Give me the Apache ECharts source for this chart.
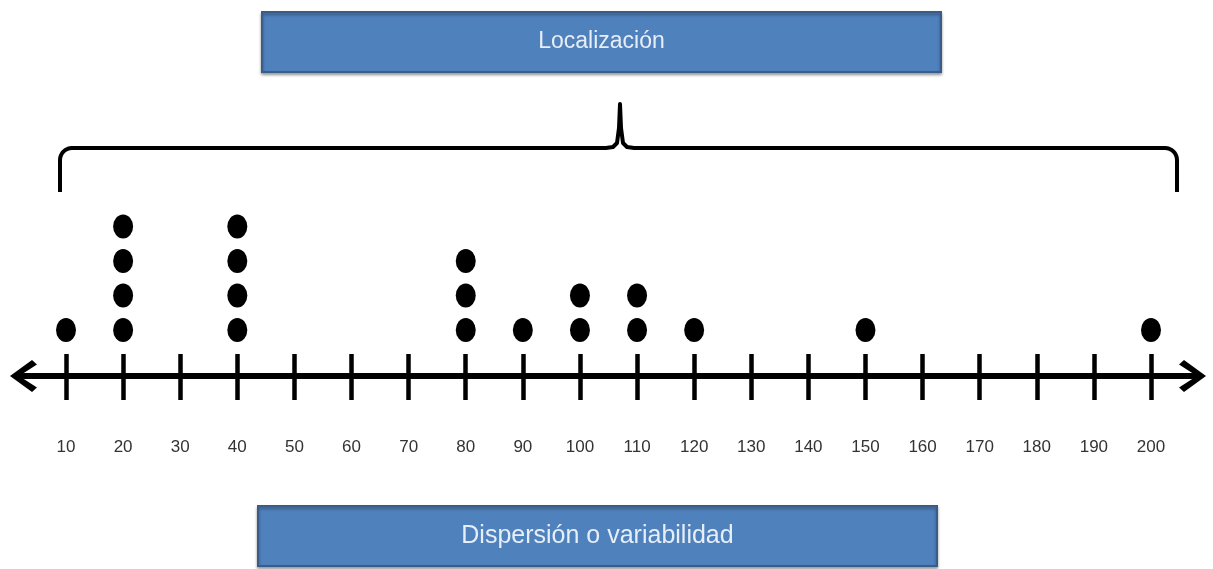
<!DOCTYPE html>
<html>
<head>
<meta charset="utf-8">
<script src="https://cdn.jsdelivr.net/npm/echarts@6/dist/echarts.min.js"></script>
<style>
  html, body { margin: 0; padding: 0; background: #fff; }
  #chart { width: 1213px; height: 569px; }
</style>
</head>
<body>
<div id="chart"></div>
<script>
// data values on the line and how many dots sit on each
const values = [10, 20, 40, 80, 90, 100, 110, 120, 150, 200]
const counts = [1, 4, 4, 3, 1, 2, 2, 1, 1, 1]
const tickValues = [10, 20, 30, 40, 50, 60, 70, 80, 90, 100, 110, 120, 130, 140, 150, 160, 170, 180, 190, 200]
const topLabel = 'Localización'
const bottomLabel = 'Dispersión o variabilidad'

const dots = []
values.forEach((v, i) => {
  for (let k = 1; k <= counts[i]; k++) dots.push([v, k])
})

// rounded corner points for the brace
const corner = (cx, cy, r, a0, a1) => {
  const pts = []
  for (let i = 0; i <= 8; i++) {
    const a = (a0 + (a1 - a0) * i / 8) * Math.PI / 180
    pts.push([cx + r * Math.cos(a), cy + r * Math.sin(a)])
  }
  return pts
}
const bracePts = [
  [60, 192],
  ...corner(72, 160, 12, 180, 270),
  [606, 148], [613, 147], [617, 143], [619, 128], [620, 104],
  [621, 128], [623, 143], [627, 147], [634, 148],
  ...corner(1165, 160, 12, 270, 360),
  [1177, 192]
]

const arrow = 'path://M16,0L32,22L27.5,27L18.5,13L18.5,28L13.5,28L13.5,13L4.5,27L0,22Z'
const font = '"Liberation Sans", Arial, sans-serif'

const box = (x, y, w, h, text, size) => ({
  type: 'group',
  children: [
    {
      type: 'rect',
      shape: { x, y, width: w, height: h },
      style: {
        fill: '#4F81BD', stroke: '#385D8A', lineWidth: 2,
        shadowBlur: 3, shadowOffsetY: 2, shadowColor: 'rgba(0,0,0,0.35)'
      }
    },
    {
      type: 'text',
      x: x + w / 2,
      y: y + h / 2,
      style: {
        text, fill: '#E6EEF8', font: size + 'px ' + font,
        align: 'center', verticalAlign: 'middle'
      }
    }
  ]
})

const chart = echarts.init(document.getElementById('chart'))
const xMin = 2.645
const xMax = 207.18
chart.setOption({
  animation: false,
  grid: { left: 24, right: 21, top: 192, bottom: 193 },
  xAxis: [
    {
      type: 'value', min: xMin, max: xMax, position: 'bottom',
      splitLine: { show: false },
      axisLine: {
        onZero: false,
        lineStyle: { color: '#000', width: 6 },
        symbol: [arrow, arrow], symbolSize: [33, 28]
      },
      axisTick: { customValues: tickValues, length: 24, lineStyle: { color: '#000', width: 4.5 } },
      axisLabel: {
        customValues: tickValues, margin: 63,
        color: '#333', fontSize: 17, fontFamily: font
      }
    },
    {
      type: 'value', min: xMin, max: xMax, position: 'bottom',
      splitLine: { show: false },
      axisLine: { show: false, onZero: false },
      axisTick: { customValues: tickValues, inside: true, length: 22, lineStyle: { color: '#000', width: 4.5 } },
      axisLabel: { show: false }
    }
  ],
  yAxis: { type: 'value', min: -0.33, max: 5, show: false },
  series: [
    {
      type: 'scatter',
      data: dots,
      symbol: 'circle',
      symbolSize: [20, 24],
      itemStyle: { color: '#000', opacity: 1 }
    }
  ],
  graphic: [
    box(262, 12, 679, 60, topLabel, 23),
    box(258, 506, 679, 60, bottomLabel, 25),
    {
      type: 'polyline',
      shape: { points: bracePts },
      style: { stroke: '#000', fill: null, lineWidth: 4, lineJoin: 'round', lineCap: 'butt' }
    }
  ]
})
</script>
</body>
</html>
